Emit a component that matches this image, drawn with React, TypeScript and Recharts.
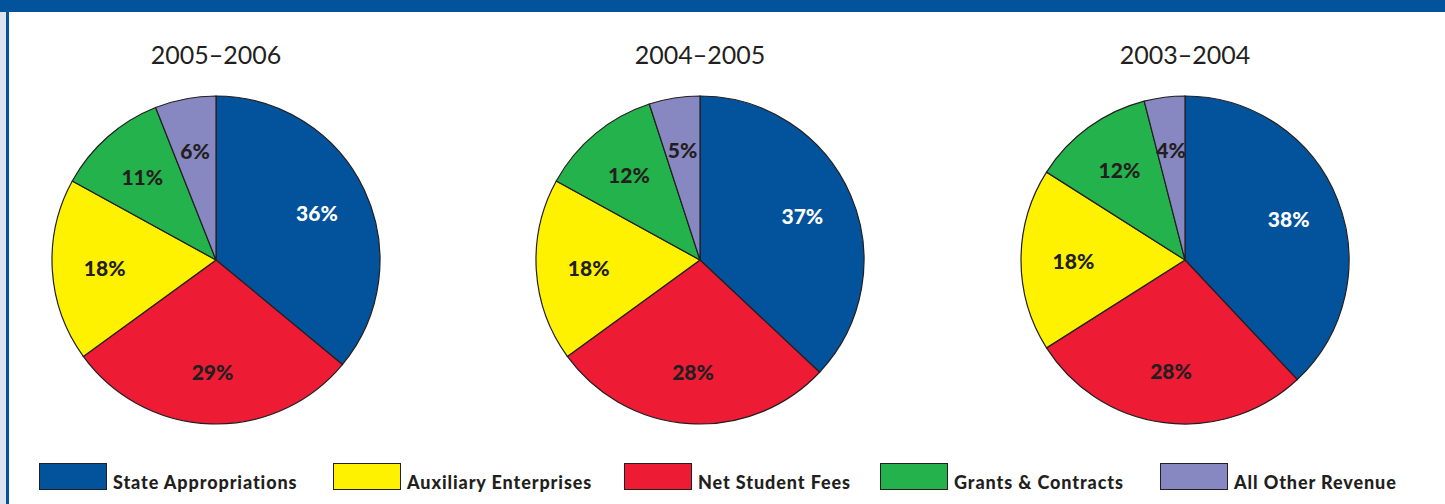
import React from "react";
import { PieChart, Pie, Cell, Legend } from "recharts";

const years = ["2005–2006", "2004–2005", "2003–2004"];
const categories = [
  "State Appropriations",
  "Net Student Fees",
  "Auxiliary Enterprises",
  "Grants & Contracts",
  "All Other Revenue",
];
const legendOrder = [
  "State Appropriations",
  "Auxiliary Enterprises",
  "Net Student Fees",
  "Grants & Contracts",
  "All Other Revenue",
];
const share2005_2006 = [36, 29, 18, 11, 6];
const share2004_2005 = [37, 28, 18, 12, 5];
const share2003_2004 = [38, 28, 18, 12, 4];

const colors: Record<string, string> = {
  "State Appropriations": "#02529c",
  "Net Student Fees": "#ee1b34",
  "Auxiliary Enterprises": "#fff200",
  "Grants & Contracts": "#23b24b",
  "All Other Revenue": "#8787c2",
};

const W = 1445;
const H = 504;
const centersX = [216, 700, 1185];
const CY = 260;
const R = 164;
const INK = "#231f20";
const legendLeft = [39, 333, 624, 880, 1160];

const toRows = (vals: number[]) =>
  categories.map((name, i) => ({ name, value: vals[i] }));

const pies = [share2005_2006, share2004_2005, share2003_2004].map(toRows);

const RAD = Math.PI / 180;
const renderLabel = (props: any) => {
  const { cx, cy, midAngle, outerRadius, value, name } = props;
  const r = outerRadius * 0.68;
  const x = cx + r * Math.cos(-midAngle * RAD);
  const y = cy + r * Math.sin(-midAngle * RAD);
  return (
    <text
      x={x}
      y={y}
      textAnchor="middle"
      dominantBaseline="central"
      fill={name === "State Appropriations" ? "#ffffff" : INK}
      fontFamily="Lato, 'DejaVu Sans', sans-serif"
      fontWeight={900}
      fontSize={21}
    >
      {`${value}%`}
    </text>
  );
};

const renderLegend = () => (
  <div style={{ position: "relative", width: W, height: 30 }}>
    {legendOrder.map((name, i) => (
      <div
        key={name}
        style={{
          position: "absolute",
          left: legendLeft[i],
          top: 0,
          display: "flex",
          alignItems: "flex-end",
        }}
      >
        <div
          style={{
            width: 66,
            height: 25,
            background: colors[name],
            border: `1px solid ${INK}`,
          }}
        />
        <span
          style={{
            marginLeft: 6,
            fontFamily: "Lato, 'DejaVu Sans', sans-serif",
            fontWeight: 900,
            fontSize: 18,
            letterSpacing: 0.9,
            color: INK,
            lineHeight: "18px",
            marginBottom: -1,
            whiteSpace: "nowrap",
          }}
        >
          {name}
        </span>
      </div>
    ))}
  </div>
);

export default function App() {
  return (
    <div
      style={{
        position: "absolute",
        left: 0,
        top: 0,
        width: W,
        height: H,
        background: "#ffffff",
        overflow: "hidden",
      }}
    >
      <div style={{ position: "absolute", left: 0, top: 0, width: 6, height: H, background: "#dde4f0" }} />
      <div style={{ position: "absolute", left: 6, top: 0, width: 3, height: H, background: "#02529c" }} />
      <div style={{ position: "absolute", left: 0, top: 0, width: W, height: 12, background: "#02529c" }} />
      {years.map((y, i) => (
        <div
          key={y}
          style={{
            position: "absolute",
            left: centersX[i] - 120,
            top: 38,
            width: 240,
            textAlign: "center",
            fontFamily: "Lato, 'DejaVu Sans', sans-serif",
            fontWeight: 400,
            fontSize: 25,
            color: INK,
            lineHeight: "32px",
          }}
        >
          {y}
        </div>
      ))}
      <PieChart width={W} height={H} margin={{ top: 0, right: 0, bottom: 0, left: 0 }} style={{ position: "absolute", left: 0, top: 0 }}>
        {pies.map((rows, i) => (
          <Pie
            key={years[i]}
            data={rows}
            dataKey="value"
            nameKey="name"
            cx={centersX[i]}
            cy={CY}
            outerRadius={R}
            startAngle={90}
            endAngle={-270}
            stroke={INK}
            strokeWidth={1.2}
            label={renderLabel}
            labelLine={false}
            isAnimationActive={false}
          >
            {rows.map((row) => (
              <Cell key={row.name} fill={colors[row.name]} />
            ))}
          </Pie>
        ))}
        <Legend
          content={renderLegend}
          wrapperStyle={{ position: "absolute", left: 0, top: 463, width: W, height: 30 }}
        />
      </PieChart>
    </div>
  );
}
